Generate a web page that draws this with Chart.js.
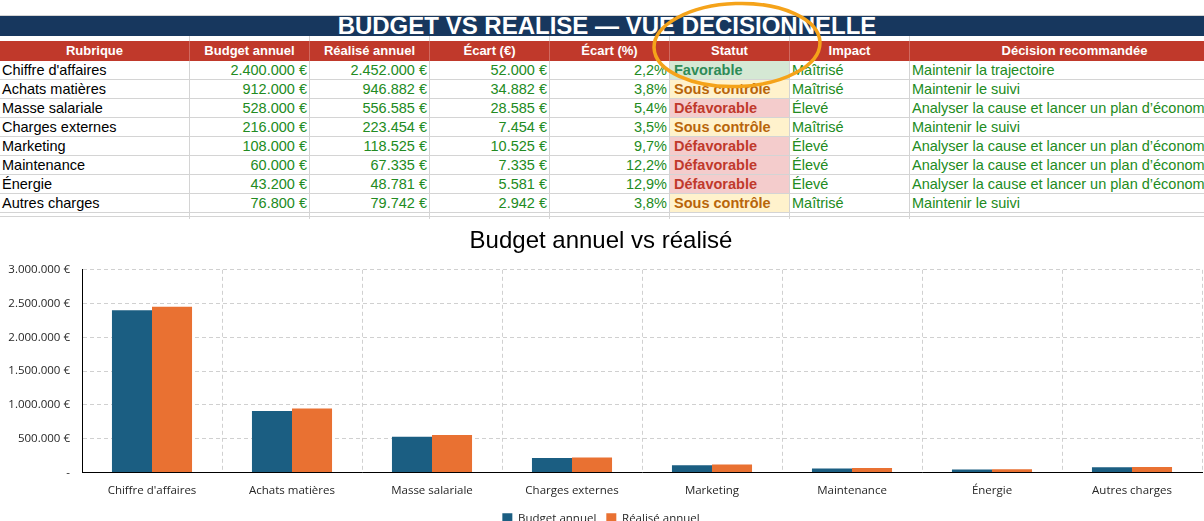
<!DOCTYPE html>
<html lang="fr">
<head>
<meta charset="utf-8">
<title>Budget vs réalisé</title>
<script src="https://cdn.jsdelivr.net/npm/chart.js@4.4.1/dist/chart.umd.min.js"></script>
<style>
  html, body { margin: 0; padding: 0; background: #fff; overflow: hidden; width: 1204px; height: 521px; }
  body { position: relative; font-family: "Liberation Sans", Arial, sans-serif; }
  .line { position: absolute; background: #d4d4d4; }
  .titlebar { position: absolute; left: 0; top: 16px; width: 1204px; height: 20px; background: #17375e; }
  .titletext { position: absolute; left: 0; top: 14px; width: 1214px; height: 24px; line-height: 24px; text-align: center;
               color: #fff; font-weight: bold; font-size: 24px; white-space: nowrap; }
  .head { position: absolute; left: 0; top: 41px; width: 1204px; height: 20px; background: #c0392b; }
  .hcell { position: absolute; top: 41px; height: 20px; line-height: 20px; text-align: center; color: #fff;
           font-weight: bold; font-size: 13px; box-sizing: border-box; border-right: 1px solid rgba(255,255,255,0.25); white-space: nowrap; }
  .cell { position: absolute; box-sizing: border-box; height: 19px; line-height: 19px; font-size: 14.5px; padding: 0 2px;
          white-space: nowrap; border-right: 1px solid #d4d4d4; border-bottom: 1px solid #d4d4d4; color: #000; }
  .num { text-align: right; color: #228b22; }
  .green { color: #228b22; }
  .st { font-weight: bold; padding-left: 4px; }
  #chartBox { position: absolute; left: 0; top: 222px; width: 1204px; height: 312px; }
  #ring { position: absolute; left: 0; top: 0; pointer-events: none; }
</style>
</head>
<body>
<div class="line" style="left:0;top:15px;width:1204px;height:1px;"></div>
<div class="titlebar"></div>
<div class="titletext">BUDGET VS REALISE — VUE DECISIONNELLE</div>
<div class="head"></div>
<div id="table"></div>
<div id="chartBox"><canvas id="graphCanvas"></canvas></div>
<svg id="ring" width="1204" height="120">
  <ellipse cx="737" cy="45" rx="83" ry="41.5" fill="none" stroke="#f5a31a" stroke-width="3.5" transform="rotate(-2 737 45)"/>
</svg>
<script>
var rubriques = ["Chiffre d'affaires", "Achats matières", "Masse salariale", "Charges externes",
                 "Marketing", "Maintenance", "Énergie", "Autres charges"];
var budget = [2400000, 912000, 528000, 216000, 108000, 60000, 43200, 76800];
var realise = [2452000, 946882, 556585, 223454, 118525, 67335, 48781, 79742];
var ecart = [52000, 34882, 28585, 7454, 10525, 7335, 5581, 2942];
var ecartPct = [2.2, 3.8, 5.4, 3.5, 9.7, 12.2, 12.9, 3.8];
var statut = ["Favorable", "Sous contrôle", "Défavorable", "Sous contrôle",
              "Défavorable", "Défavorable", "Défavorable", "Sous contrôle"];
var impact = ["Maîtrisé", "Maîtrisé", "Élevé", "Maîtrisé", "Élevé", "Élevé", "Élevé", "Maîtrisé"];
var decision = ["Maintenir la trajectoire", "Maintenir le suivi",
                "Analyser la cause et lancer un plan d’économies", "Maintenir le suivi",
                "Analyser la cause et lancer un plan d’économies", "Analyser la cause et lancer un plan d’économies",
                "Analyser la cause et lancer un plan d’économies", "Maintenir le suivi"];
var enTetes = ["Rubrique", "Budget annuel", "Réalisé annuel", "Écart (€)", "Écart (%)", "Statut", "Impact", "Décision recommandée"];
var yTicks = [0, 500000, 1000000, 1500000, 2000000, 2500000, 3000000];

var colLeft = [0, 190, 310, 430, 550, 670, 790, 910];
var colWidth = [190, 120, 120, 120, 120, 120, 120, 330];
var statutStyle = {
  "Favorable": { bg: "#d5e8d4", fg: "#2e8b57" },
  "Sous contrôle": { bg: "#fff2cc", fg: "#b8650a" },
  "Défavorable": { bg: "#f4cccc", fg: "#c0392b" }
};

function euro(v) {
  return String(v).replace(/\B(?=(\d{3})+(?!\d))/g, ".") + " €";
}
function pct(v) {
  return v.toFixed(1).replace(".", ",") + "%";
}

var table = document.getElementById("table");
function addCell(text, col, y, cls, extra) {
  var d = document.createElement("div");
  d.className = cls;
  d.style.left = colLeft[col] + "px";
  d.style.width = colWidth[col] + "px";
  d.style.top = y + "px";
  if (extra) {
    for (var k in extra) d.style[k] = extra[k];
  }
  d.textContent = text;
  table.appendChild(d);
}
function addLine(x, y, w, h) {
  var l = document.createElement("div");
  l.className = "line";
  l.style.cssText = "left:" + x + "px;top:" + y + "px;width:" + w + "px;height:" + h + "px;";
  table.appendChild(l);
}

// quadrillage autour du bloc
for (var c = 1; c < colLeft.length; c++) {
  addLine(colLeft[c] - 1, 36, 1, 5);
  addLine(colLeft[c] - 1, 213, 1, 6);
}
addLine(0, 216, 1204, 1);

for (var h = 0; h < enTetes.length; h++) {
  addCell(enTetes[h], h, 41, "hcell");
}

for (var i = 0; i < rubriques.length; i++) {
  var rowTop = 61 + i * 19;
  var s = statutStyle[statut[i]];
  addCell(rubriques[i], 0, rowTop, "cell");
  addCell(euro(budget[i]), 1, rowTop, "cell num");
  addCell(euro(realise[i]), 2, rowTop, "cell num");
  addCell(euro(ecart[i]), 3, rowTop, "cell num");
  addCell(pct(ecartPct[i]), 4, rowTop, "cell num");
  addCell(statut[i], 5, rowTop, "cell st", { background: s.bg, color: s.fg });
  addCell(impact[i], 6, rowTop, "cell green");
  addCell(decision[i], 7, rowTop, "cell green", { borderRight: "none" });
}

// graphique
Chart.defaults.font.family = "'Open Sans', 'Noto Sans', sans-serif";
Chart.defaults.color = "#262626";

var chartData = {
  labels: rubriques,
  datasets: [
    {
      label: "Budget annuel",
      backgroundColor: "#1b5e82",
      data: budget,
    },
    {
      label: "Réalisé annuel",
      backgroundColor: "#e97132",
      data: realise,
    },
  ],
};

var gridStyle = { color: "#d0d0d0", lineWidth: 1, drawTicks: false };

var barGraph = new Chart(document.getElementById("graphCanvas"), {
  type: "bar",
  data: chartData,
  options: {
    responsive: true,
    maintainAspectRatio: false,
    animation: false,
    layout: { padding: { left: 0, right: 2, top: 0, bottom: 0 } },
    datasets: { bar: { barPercentage: 1, categoryPercentage: 0.572 } },
    plugins: {
      title: {
        display: true,
        text: "Budget annuel vs réalisé",
        color: "#000",
        font: { family: "'Liberation Sans', Arial, sans-serif", size: 24, weight: "normal" },
        padding: { top: 5, bottom: 14 },
      },
      legend: {
        position: "bottom",
        labels: { boxWidth: 10, boxHeight: 10, padding: 10, font: { size: 11.5 }, color: "#262626" },
      },
      tooltip: { enabled: false },
    },
    scales: {
      x: {
        offset: true,
        grid: Object.assign({ offset: true }, gridStyle),
        border: { display: true, color: "#000", width: 1, dash: [4, 3] },
        ticks: { font: { size: 11.5 }, padding: 11, maxRotation: 0, autoSkip: false },
        afterFit: function (scale) { scale.height = 30; },
      },
      y: {
        min: yTicks[0],
        max: yTicks[yTicks.length - 1],
        grid: gridStyle,
        border: { display: true, color: "#000", width: 1, dash: [4, 3] },
        ticks: {
          stepSize: yTicks[1] - yTicks[0],
          font: { size: 11.5 },
          padding: 12,
          callback: function (value) { return value === 0 ? "-" : euro(value); },
        },
        afterFit: function (scale) { scale.width = 82; },
      },
    },
  },
});
</script>
</body>
</html>
